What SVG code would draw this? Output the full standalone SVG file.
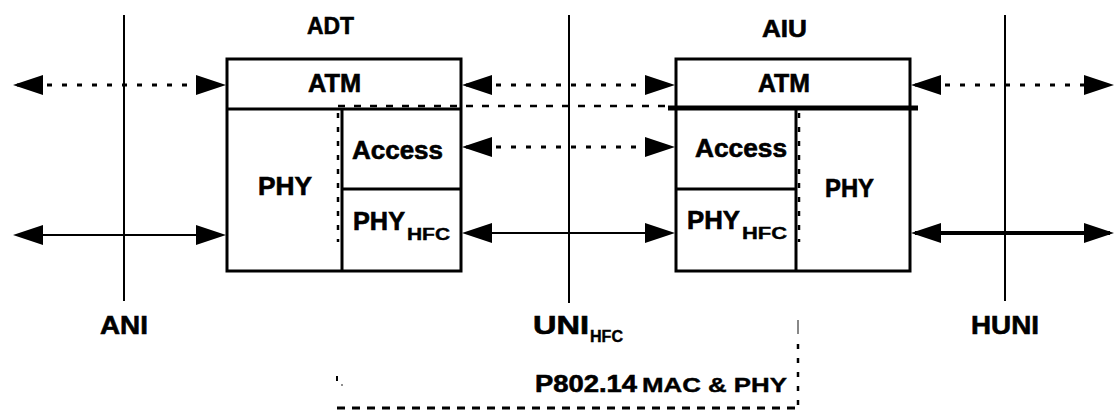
<svg xmlns="http://www.w3.org/2000/svg" width="1116" height="415" viewBox="0 0 1116 415">
<style>
text{font-family:"Liberation Sans",Arial,sans-serif;font-weight:bold;fill:#000;stroke:#000;stroke-width:0.6}
.lbl{font-size:25px}
.ttl{font-size:24px}
.sub{font-size:16px;stroke-width:0.4}
.box{fill:none;stroke:#000;stroke-width:3}
.div{stroke:#000;stroke-width:3}
.vl{stroke:#000;stroke-width:2}
.dot{stroke:#000;stroke-width:3;stroke-dasharray:5 10;fill:none}
.sol{stroke:#000;stroke-width:2;fill:none}
.dash{stroke:#000;stroke-width:2.5;stroke-dasharray:7 9;fill:none}
.vdot{stroke:#000;stroke-width:2.5;stroke-dasharray:5 9;fill:none}
</style>
<defs>
<marker id="ah" viewBox="0 0 30 20" refX="26" refY="10" markerWidth="30" markerHeight="20" markerUnits="userSpaceOnUse" orient="auto-start-reverse">
<path d="M0,0 L30,10 L0,20 Z" fill="#000"/>
</marker>
</defs>
<rect width="1116" height="415" fill="#fff"/>

<g id="interfaces">
<line class="vl" x1="124" y1="15" x2="124" y2="301"/>
<line class="vl" x1="569" y1="15" x2="569" y2="303"/>
<line class="vl" x1="1005" y1="15" x2="1005" y2="301"/>
</g>

<g id="connectors">
<line class="dot" x1="17" y1="85" x2="222" y2="85" marker-start="url(#ah)" marker-end="url(#ah)"/>
<line class="sol" x1="17" y1="235" x2="222" y2="235" marker-start="url(#ah)" marker-end="url(#ah)"/>
<line class="dot" x1="466" y1="85" x2="671" y2="85" marker-start="url(#ah)" marker-end="url(#ah)"/>
<line class="dot" x1="466" y1="147" x2="671" y2="147" marker-start="url(#ah)" marker-end="url(#ah)"/>
<line class="sol" x1="466" y1="233" x2="671" y2="233" marker-start="url(#ah)" marker-end="url(#ah)"/>
<line class="dot" x1="915" y1="85" x2="1110" y2="85" marker-start="url(#ah)" marker-end="url(#ah)"/>
<line class="sol" style="stroke-width:4" x1="915" y1="233" x2="1110" y2="233" marker-start="url(#ah)" marker-end="url(#ah)"/>
</g>

<g id="adt">
<text class="ttl" x="307" y="34" textLength="47" lengthAdjust="spacingAndGlyphs">ADT</text>
<rect class="box" x="227" y="59" width="234" height="212"/>
<line class="div" x1="227" y1="109" x2="461" y2="109"/>
<line class="div" x1="342" y1="109" x2="342" y2="271"/>
<line class="div" x1="342" y1="189" x2="461" y2="189"/>
<text class="lbl" x="308" y="92" textLength="53" lengthAdjust="spacingAndGlyphs">ATM</text>
<text class="lbl" x="258" y="195" textLength="54" lengthAdjust="spacingAndGlyphs">PHY</text>
<text class="lbl" x="352" y="159" textLength="91" lengthAdjust="spacingAndGlyphs">Access</text>
<text class="lbl" x="353" y="230" textLength="52" lengthAdjust="spacingAndGlyphs">PHY</text>
<text class="sub" x="407" y="240" textLength="43" lengthAdjust="spacingAndGlyphs">HFC</text>
</g>

<g id="aiu">
<text class="ttl" x="762" y="37" textLength="45" lengthAdjust="spacingAndGlyphs">AIU</text>
<rect class="box" x="676" y="59" width="234" height="212"/>
<line class="div" style="stroke-width:5" x1="668" y1="108" x2="918" y2="108"/>
<line class="div" x1="796" y1="108" x2="796" y2="271"/>
<line class="div" x1="676" y1="189" x2="796" y2="189"/>
<text class="lbl" x="758" y="92" textLength="52" lengthAdjust="spacingAndGlyphs">ATM</text>
<text class="lbl" x="695" y="157" textLength="92" lengthAdjust="spacingAndGlyphs">Access</text>
<text class="lbl" x="825" y="197" textLength="49" lengthAdjust="spacingAndGlyphs">PHY</text>
<text class="lbl" x="687" y="229" textLength="53" lengthAdjust="spacingAndGlyphs">PHY</text>
<text class="sub" x="742" y="239" textLength="45" lengthAdjust="spacingAndGlyphs">HFC</text>
</g>

<g id="p80214">
<line class="dash" x1="338" y1="106" x2="668" y2="106"/>
<line class="vdot" x1="338" y1="113" x2="338" y2="242"/>
<line class="vdot" x1="799" y1="113" x2="799" y2="242"/>
<line stroke="#888" stroke-width="2" x1="798" y1="320" x2="798" y2="334"/>
<line class="vdot" x1="798" y1="344" x2="798" y2="408"/>
<line class="dash" style="stroke-width:3;stroke-dasharray:8 7" x1="337" y1="408" x2="798" y2="408"/>
<line stroke="#000" stroke-width="2" x1="337" y1="376" x2="337" y2="381"/>
<circle cx="342" cy="385" r="0.8" fill="#000"/>
<text x="535" y="392" style="font-size:24px" textLength="102" lengthAdjust="spacingAndGlyphs">P802.14</text>
<text x="642" y="392" style="font-size:21px;stroke-width:0.4" textLength="145" lengthAdjust="spacingAndGlyphs">MAC &amp; PHY</text>
</g>

<g id="labels">
<text class="lbl" x="100" y="334" textLength="48" lengthAdjust="spacingAndGlyphs">ANI</text>
<text class="lbl" x="533" y="334" textLength="56" lengthAdjust="spacingAndGlyphs">UNI</text>
<text class="sub" x="590" y="342" textLength="33" lengthAdjust="spacingAndGlyphs">HFC</text>
<text class="lbl" x="971" y="334" textLength="68" lengthAdjust="spacingAndGlyphs">HUNI</text>
</g>
</svg>
